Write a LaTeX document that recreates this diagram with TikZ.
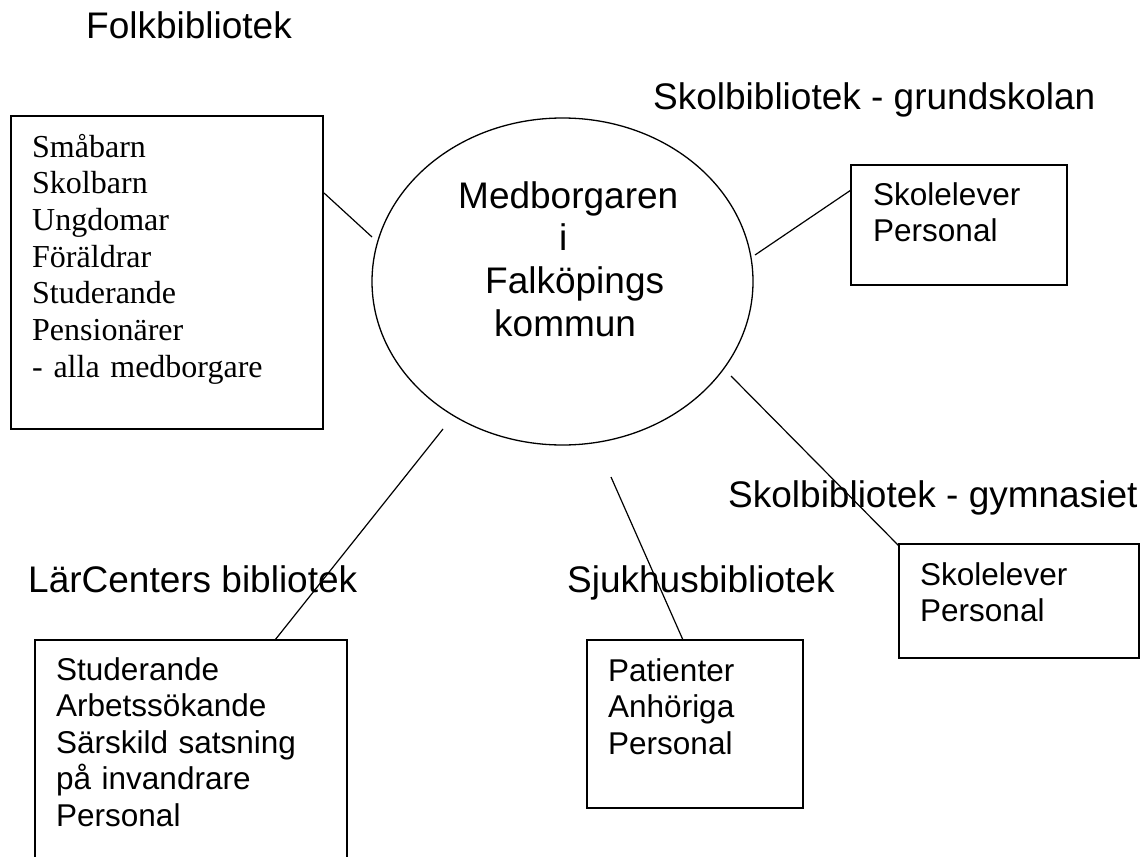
\documentclass[tikz,border=0pt]{standalone}
\usepackage{fontspec}
\setmainfont{Liberation Serif}
\newfontfamily\arial{Liberation Sans}
\usetikzlibrary{shapes.geometric,calc}
\begin{document}
\begin{tikzpicture}[x=1pt,y=-1pt,
  frame/.style={draw, line width=1.4pt, rectangle, inner sep=0pt, outer sep=0pt, anchor=north west},
  conn/.style={line width=1.2pt},
  title/.style={inner sep=0pt, anchor=base west, font=\arial\fontsize{37}{42.5}\selectfont},
  list/.style={inner sep=0pt, anchor=base west, text width=300pt, align=left, font=\arial\fontsize{31.5}{36.5}\selectfont},
  serlist/.style={inner sep=0pt, anchor=base west, text width=300pt, align=left, font=\fontsize{32}{36.7}\selectfont}]
\useasboundingbox (0,0) rectangle (1147,856);
% titles
\node[title] (tfolk) at (86,39) {Folkbibliotek};
\node[title] (tgrund) at (653,110) {Skolbibliotek - grundskolan};
\node[title] (tgym) at (728,507) {Skolbibliotek - gymnasiet};
\node[title] (tlar) at (28,592) {LärCenters bibliotek};
\node[title] (tsjuk) at (567,592) {Sjukhusbibliotek};
% central ellipse
\node[draw, ellipse, line width=1.3pt, inner sep=0pt, minimum width=381pt, minimum height=327pt] (ell) at (562.5,281.5) {};
\node[inner sep=0pt, anchor=base west, text width=240pt, align=left, font=\arial\fontsize{37}{42.7}\selectfont] (etext) at (458,208)
  {Medborgaren\\\hspace*{101pt}i\\\hspace*{27pt}Falköpings\\\hspace*{36pt}kommun};
% boxes
\node[frame, minimum width=312pt, minimum height=313pt] (folk) at (11,116) {};
\node[frame, minimum width=216pt, minimum height=120pt] (grund) at (851,165) {};
\node[frame, minimum width=240pt, minimum height=114pt] (gym) at (899,544) {};
\node[frame, minimum width=312pt, minimum height=240pt] (lar) at (35,640) {};
\node[frame, minimum width=216pt, minimum height=168pt] (sjuk) at (587,640) {};
% box texts
\node[serlist] (lfolk) at (32,157) {Småbarn\\Skolbarn\\Ungdomar\\Föräldrar\\Studerande\\Pensionärer\\- alla medborgare};
\node[list] (lgrund) at (873,205) {Skolelever\\Personal};
\node[list] (lgym) at (920,585) {Skolelever\\Personal};
\node[list] (llar) at (56,680) {Studerande\\Arbetssökande\\Särskild satsning\\på invandrare\\Personal};
\node[list] (lsjuk) at (608,681) {Patienter\\Anhöriga\\Personal};
% connector ends near the ellipse
\coordinate (e1) at ($(ell.center)+(-190.5,-44.5)$);
\coordinate (e2) at ($(ell.center)+(192.5,-26.5)$);
\coordinate (e3) at ($(ell.center)+(168.5,94.5)$);
\coordinate (e4) at ($(ell.center)+(-119.5,147.5)$);
\coordinate (e5) at ($(ell.center)+(48.5,195.5)$);
% connectors
\draw[conn] ($(folk.north east)+(1,77)$) -- (e1);
\draw[conn] (e2) -- ($(grund.north west)+(0,25)$);
\draw[conn] (e3) -- ($(gym.north west)+(0,2)$);
\draw[conn] (e4) -- ($(lar.north west)+(240,0)$);
\draw[conn] (e5) -- ($(sjuk.north west)+(96,0)$);
\end{tikzpicture}
\end{document}
